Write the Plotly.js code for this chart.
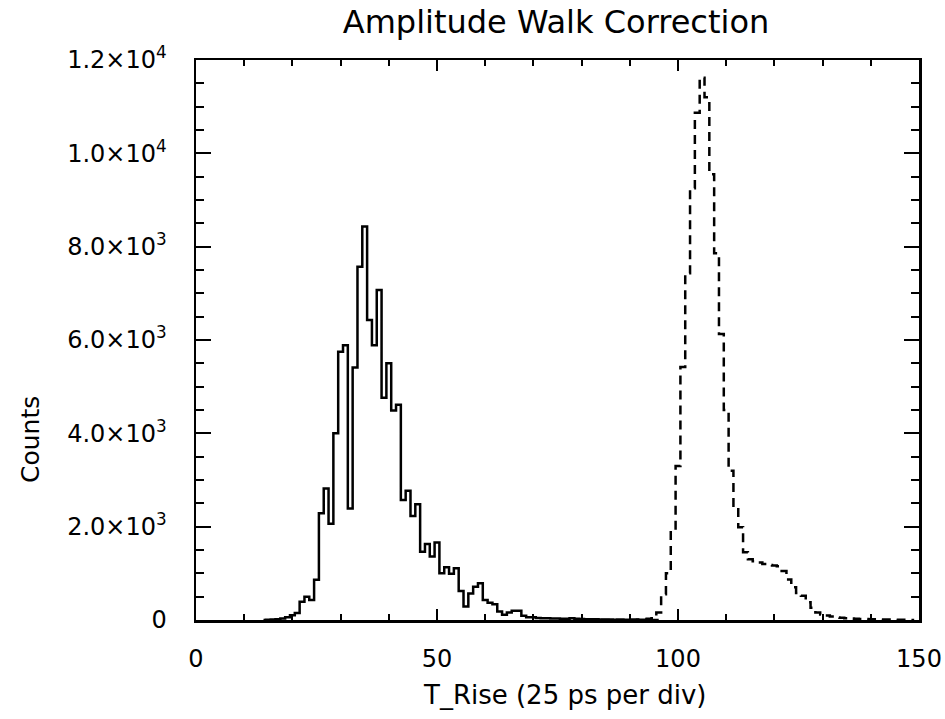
<!DOCTYPE html>
<html>
<head>
<meta charset="utf-8">
<script src="https://cdn.plot.ly/plotly-3.0.1.min.js"></script>
<style>
  html, body { margin: 0; padding: 0; background: #ffffff; }
  #chart { width: 945px; height: 719px; }
</style>
</head>
<body>
<div id="chart"></div>
<script>
// ---- data ----
// Solid histogram: first bin centre and counts per unit-wide bin
const solidFirstBin = 14;
const solidCounts = [
  0, 5, 10, 15, 30, 60, 100, 150, 390, 500,          // 14-23
  430, 860, 2290, 2820, 2060, 4000, 5750, 5890, 2390, 5410, // 24-33
  7570, 8430, 6430, 5890, 7070, 4760, 5500, 4490, 4610, 2570, // 34-43
  2770, 2230, 2480, 1460, 1630, 1360, 1660, 1000, 1130, 990,  // 44-53
  1110, 620, 290, 570, 710, 790, 430, 370, 340, 180,          // 54-63
  110, 160, 200, 200, 90, 60, 60, 45, 40, 35,                 // 64-73
  30, 30, 28, 25, 35, 25, 20, 18, 15, 14,                     // 74-83
  12, 10, 10, 8, 8, 6, 6, 5, 4, 3,                            // 84-93
  2, 2, 0                                                     // 94-96
];
// Dashed histogram
const dashedFirstBin = 84;
const dashedCounts = [
  0, 2, 2, 3, 4, 5, 6, 8, 10, 15,                             // 84-93
  25, 40, 160, 550, 1000, 1910, 3300, 5420, 7430, 9250,       // 94-103
  10870, 11620, 11200, 9550, 7860, 6130, 4500, 3200, 2450, 1990, // 104-113
  1450, 1300, 1260, 1230, 1200, 1180, 1170, 1150, 1050, 870,  // 114-123
  700, 580, 520, 380, 260, 160, 120, 95, 75, 55,              // 124-133
  50, 40, 30, 28, 22, 20, 18, 15, 12, 10,                     // 134-143
  10, 8, 6, 4, 2, 0                                           // 144-149
];
const xTickVals = [0, 50, 100, 150];
const xTickText = ['0', '50', '100', '150'];
const yTickVals = [0, 2000, 4000, 6000, 8000, 10000, 12000];
const yTickText = ['0', '2.0×10<sup>3</sup>', '4.0×10<sup>3</sup>', '6.0×10<sup>3</sup>',
                   '8.0×10<sup>3</sup>', '1.0×10<sup>4</sup>', '1.2×10<sup>4</sup>'];
const titleText = 'Amplitude Walk Correction';
const xTitleText = 'T_Rise (25 ps per div)';
const yTitleText = 'Counts';

// ---- build traces ----
const solidX = solidCounts.map((_, i) => solidFirstBin + i);
const dashedX = dashedCounts.map((_, i) => dashedFirstBin + i);

const FONT = 'DejaVu Sans, Liberation Sans, sans-serif';

const traces = [
  {
    type: 'scatter', mode: 'lines', x: solidX, y: solidCounts,
    line: { shape: 'hvh', color: '#000000', width: 2.5 },
    hoverinfo: 'x+y', showlegend: false
  },
  {
    type: 'scatter', mode: 'lines', x: dashedX, y: dashedCounts,
    line: { shape: 'hvh', color: '#000000', width: 2.5, dash: '9px,6px' },
    hoverinfo: 'x+y', showlegend: false
  }
];

const layout = {
  width: 945, height: 719,
  margin: { l: 196, r: 26, t: 60, b: 99, pad: 0 },
  paper_bgcolor: '#ffffff', plot_bgcolor: '#ffffff',
  font: { family: FONT, size: 24, color: '#000000' },
  title: {
    text: titleText, xref: 'container', yref: 'container',
    x: 556 / 945, xanchor: 'center', y: 1 - 22 / 719, yanchor: 'middle',
    font: { family: FONT, size: 32, color: '#000000' }
  },
  xaxis: {
    range: [0, 150], showgrid: false, zeroline: false,
    showline: true, linecolor: '#000000', linewidth: 2.5, mirror: 'allticks',
    ticks: 'inside', ticklen: 11, tickwidth: 2, tickcolor: '#000000',
    tickmode: 'array', tickvals: xTickVals, ticktext: xTickText,
    ticklabelstandoff: 16,
    tickfont: { family: FONT, size: 24, color: '#000000' },
    minor: { tickmode: 'linear', tick0: 0, dtick: 10, ticks: 'inside', ticklen: 6, tickwidth: 2, tickcolor: '#000000', showgrid: false },
    fixedrange: true
  },
  yaxis: {
    range: [0, 12000], showgrid: false, zeroline: false,
    showline: true, linecolor: '#000000', linewidth: 2.5, mirror: 'allticks',
    ticks: 'inside', ticklen: 15, tickwidth: 2, tickcolor: '#000000',
    tickmode: 'array', tickvals: yTickVals, ticktext: yTickText,
    ticklabelstandoff: 22,
    tickfont: { family: FONT, size: 24, color: '#000000' },
    minor: { tickmode: 'linear', tick0: 0, dtick: 500, ticks: 'inside', ticklen: 8, tickwidth: 2, tickcolor: '#000000', showgrid: false },
    fixedrange: true
  },
  annotations: [
    {
      text: xTitleText, xref: 'paper', yref: 'paper',
      x: (565 - 196) / 723, y: (620 - 695) / 560, xanchor: 'center', yanchor: 'middle',
      showarrow: false, font: { family: FONT, size: 26, color: '#000000' }
    },
    {
      text: yTitleText, xref: 'paper', yref: 'paper', textangle: -90,
      x: (30 - 196) / 723, y: (620 - 440) / 560, xanchor: 'center', yanchor: 'middle',
      showarrow: false, font: { family: FONT, size: 25, color: '#000000' }
    }
  ],
  showlegend: false
};

Plotly.newPlot('chart', traces, layout, { displayModeBar: false, staticPlot: true });
</script>
</body>
</html>
